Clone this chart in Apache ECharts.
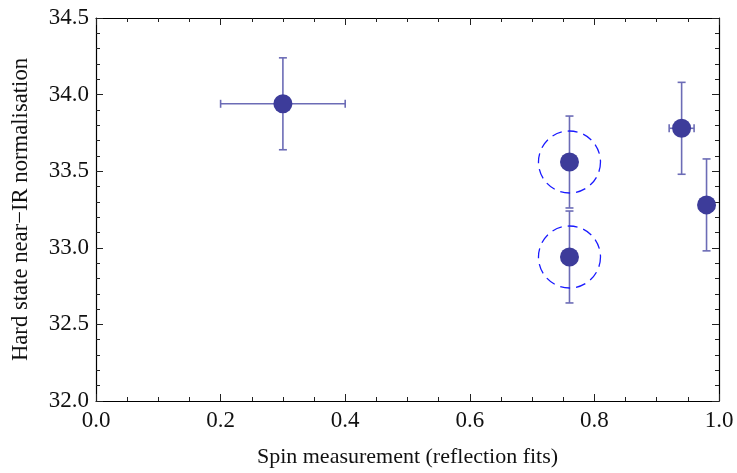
<!DOCTYPE html>
<html>
<head>
<meta charset="utf-8">
<script src="https://cdn.jsdelivr.net/npm/echarts@6/dist/echarts.min.js"></script>
<style>
  html, body { margin: 0; padding: 0; background: #fff; }
  #chart { width: 737px; height: 473px; }
</style>
</head>
<body>
<div id="chart"></div>
<script>
// Spin (reflection fits) vs. hard-state near-IR normalisation
const spin      = [0.30, 0.76, 0.76, 0.94, 0.98];
const spinErr   = [0.10, 0.00, 0.00, 0.02, 0.00];
const norm      = [33.94, 33.56, 32.94, 33.78, 33.28];
const normErr   = [0.30, 0.30, 0.30, 0.30, 0.30];
const circled   = [1, 2];            // indices of points ringed with a dashed circle
const xTicks    = [0.0, 0.2, 0.4, 0.6, 0.8, 1.0];
const yTicks    = [32.0, 32.5, 33.0, 33.5, 34.0, 34.5];

const FONT = '"Liberation Serif", "Times New Roman", serif';
const MARK = '#3d3c9a';
const BAR  = '#6c6cb6';
const TICK_FS = 23;

const points  = spin.map((x, i) => [x, norm[i]]);
const errRows = spin.map((x, i) => [x, norm[i], spinErr[i], normErr[i]]);
const rings   = circled.map(i => [spin[i], norm[i]]);

const chart = echarts.init(document.getElementById('chart'), null, { renderer: 'canvas' });

function axisCommon(showLabels, minorSplit, margin) {
  return {
    axisLine: { show: true, onZero: false, lineStyle: { color: '#000', width: 1.2 } },
    axisTick: { show: true, inside: true, length: 7, lineStyle: { color: '#222', width: 1 } },
    minorTick: { show: true, splitNumber: minorSplit, length: 4, lineStyle: { color: '#222', width: 1 } },
    splitLine: { show: false },
    axisLabel: { show: showLabels, fontFamily: FONT, fontSize: TICK_FS, color: '#111', margin: margin,
                 formatter: v => Number(v).toFixed(1) }
  };
}

chart.setOption({
  animation: false,
  backgroundColor: '#fff',
  grid: { left: 96, right: 18, top: 18, bottom: 71, containLabel: false },
  xAxis: [
    Object.assign({
      type: 'value', min: xTicks[0], max: xTicks[xTicks.length - 1], interval: 0.2,
      position: 'bottom',
      name: 'Spin measurement (reflection fits)', nameLocation: 'middle', nameGap: 45,
      nameTextStyle: { fontFamily: FONT, fontSize: 22, color: '#111' }
    }, axisCommon(true, 4, 8)),
    Object.assign({
      type: 'value', min: xTicks[0], max: xTicks[xTicks.length - 1], interval: 0.2,
      position: 'top'
    }, axisCommon(false, 4, 8))
  ],
  yAxis: [
    Object.assign({
      type: 'value', min: yTicks[0], max: yTicks[yTicks.length - 1], interval: 0.5,
      position: 'left',
      name: 'Hard state near\u2212IR normalisation', nameLocation: 'middle', nameGap: 63,
      nameRotate: 90,
      nameTextStyle: { fontFamily: FONT, fontSize: 22.7, color: '#111' }
    }, axisCommon(true, 5, 7)),
    Object.assign({
      type: 'value', min: yTicks[0], max: yTicks[yTicks.length - 1], interval: 0.5,
      position: 'right'
    }, axisCommon(false, 5, 7))
  ],
  series: [
    {
      // error bars with small end caps
      type: 'custom',
      xAxisIndex: 0, yAxisIndex: 0,
      data: errRows,
      z: 2,
      renderItem: function (params, api) {
        const x = api.value(0), y = api.value(1), ex = api.value(2), ey = api.value(3);
        const style = { stroke: BAR, lineWidth: 1.6 };
        const cap = 4;
        const children = [];
        const top = api.coord([x, y + ey]);
        const bot = api.coord([x, y - ey]);
        children.push({ type: 'line', shape: { x1: top[0], y1: top[1], x2: bot[0], y2: bot[1] }, style });
        children.push({ type: 'line', shape: { x1: top[0] - cap, y1: top[1], x2: top[0] + cap, y2: top[1] }, style });
        children.push({ type: 'line', shape: { x1: bot[0] - cap, y1: bot[1], x2: bot[0] + cap, y2: bot[1] }, style });
        if (ex > 0) {
          const l = api.coord([x - ex, y]);
          const r = api.coord([x + ex, y]);
          children.push({ type: 'line', shape: { x1: l[0], y1: l[1], x2: r[0], y2: r[1] }, style });
          children.push({ type: 'line', shape: { x1: l[0], y1: l[1] - cap, x2: l[0], y2: l[1] + cap }, style });
          children.push({ type: 'line', shape: { x1: r[0], y1: r[1] - cap, x2: r[0], y2: r[1] + cap }, style });
        }
        return { type: 'group', children };
      }
    },
    {
      // dashed rings around the highlighted points
      type: 'custom',
      xAxisIndex: 0, yAxisIndex: 0,
      data: rings,
      z: 3,
      renderItem: function (params, api) {
        const c = api.coord([api.value(0), api.value(1)]);
        return {
          type: 'circle',
          shape: { cx: c[0], cy: c[1], r: 31 },
          style: { fill: null, stroke: '#1a1aff', lineWidth: 1.3, lineDash: [10, 6] }
        };
      }
    },
    {
      type: 'scatter',
      xAxisIndex: 0, yAxisIndex: 0,
      data: points,
      symbol: 'circle',
      symbolSize: 19,
      itemStyle: { color: MARK, opacity: 1 },
      z: 4
    }
  ]
});
</script>
</body>
</html>
